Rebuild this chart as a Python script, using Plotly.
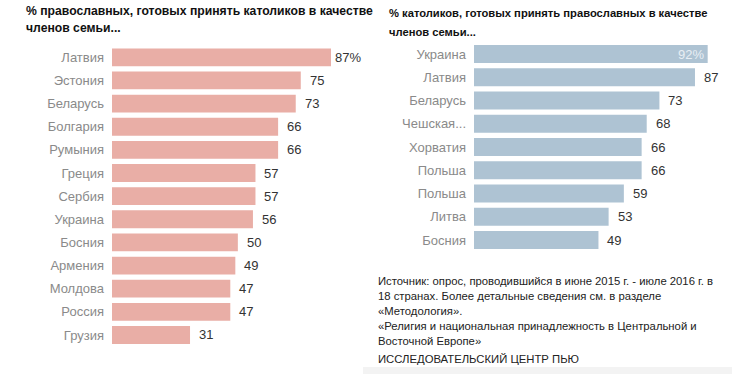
import plotly.graph_objects as go

W, H = 732, 374

left_countries = ["Латвия", "Эстония", "Беларусь", "Болгария", "Румыния", "Греция", "Сербия",
                  "Украина", "Босния", "Армения", "Молдова", "Россия", "Грузия"]
left_values = [87, 75, 73, 66, 66, 57, 57, 56, 50, 49, 47, 47, 31]

right_countries = ["Украина", "Латвия", "Беларусь", "Чешская...", "Хорватия", "Польша",
                   "Польша", "Литва", "Босния"]
right_values = [92, 87, 73, 68, 66, 66, 59, 53, 49]

left_title = ["% православных, готовых принять католиков в качестве", "членов семьи..."]
right_title = ["% католиков, готовых принять православных в качестве", "членов семьи..."]
source_lines = [
    "Источник: опрос, проводившийся в июне 2015 г. - июле 2016 г. в",
    "18 странах. Более детальные сведения см. в разделе",
    "«Методология».",
    "«Религия и национальная принадлежность в Центральной и",
    "Восточной Европе»",
]
credit = "ИССЛЕДОВАТЕЛЬСКИЙ ЦЕНТР ПЬЮ"

FONT = "Liberation Sans, Arial, sans-serif"
LEFT_COLOR = "#e9aea6"
RIGHT_COLOR = "#aec3d3"


def px_x(x):
    return x / W


def px_y(y):
    return 1 - y / H


def labels(vals, first_suffix="%"):
    return [f"{v}{first_suffix}" if i == 0 else str(v) for i, v in enumerate(vals)]


fig = go.Figure()

fig.add_trace(go.Bar(
    x=left_values, y=list(range(len(left_values))), orientation="h",
    marker=dict(color=LEFT_COLOR, line=dict(width=0)), width=0.77,
    xaxis="x", yaxis="y", hoverinfo="skip",
))
fig.add_trace(go.Bar(
    x=right_values, y=list(range(len(right_values))), orientation="h",
    marker=dict(color=RIGHT_COLOR, line=dict(width=0)), width=0.77,
    xaxis="x2", yaxis="y2", hoverinfo="skip",
))

lx0 = 112
lx1 = lx0 + 100 * 2.517
ly_top = 57.3 - 23.14 / 2
ly_bot = 57.3 + 23.14 * 12 + 23.14 / 2
rx0 = 474
rx1 = rx0 + 100 * 2.54
ry_top = 54 - 23.25 / 2
ry_bot = 54 + 23.25 * 8 + 23.25 / 2

common_x = dict(range=[0, 100], showgrid=False, zeroline=False, showticklabels=False,
                showline=False, fixedrange=True)
fig.update_layout(
    xaxis=dict(domain=[px_x(lx0), px_x(lx1)], anchor="y", **common_x),
    yaxis=dict(domain=[px_y(ly_bot), px_y(ly_top)], anchor="x",
               range=[len(left_values) - 0.5, -0.5],
               tickvals=list(range(len(left_values))), ticktext=left_countries,
               showgrid=False, zeroline=False, showline=False, ticks="",
               ticklabelstandoff=7,
               tickfont=dict(family=FONT, size=13, color="#8a8a8a")),
    xaxis2=dict(domain=[px_x(rx0), px_x(rx1)], anchor="y2", **common_x),
    yaxis2=dict(domain=[px_y(ry_bot), px_y(ry_top)], anchor="x2",
                range=[len(right_values) - 0.5, -0.5],
                tickvals=list(range(len(right_values))), ticktext=right_countries,
                showgrid=False, zeroline=False, showline=False, ticks="",
                ticklabelstandoff=7,
                tickfont=dict(family=FONT, size=13, color="#8a8a8a")),
    width=W, height=H, margin=dict(l=0, r=0, t=0, b=0),
    paper_bgcolor="white", plot_bgcolor="white", showlegend=False,
    bargap=0.2,
)

ann = []

for i, (v, t) in enumerate(zip(left_values, labels(left_values))):
    ann.append(dict(text=t, x=v, y=i, xref="x", yref="y", xshift=16 if i else 17,
                    xanchor="center", yanchor="middle", showarrow=False,
                    font=dict(family=FONT, size=13, color="#333333")))
for i, (v, t) in enumerate(zip(right_values, labels(right_values))):
    if i == 0:
        ann.append(dict(text=t, x=v, y=i, xref="x2", yref="y2", xshift=-2,
                        xanchor="right", yanchor="middle", showarrow=False,
                        font=dict(family=FONT, size=13, color="#e8eef4")))
    else:
        ann.append(dict(text=t, x=v, y=i, xref="x2", yref="y2", xshift=16,
                        xanchor="center", yanchor="middle", showarrow=False,
                        font=dict(family=FONT, size=13, color="#333333")))


def add_text(text, x, y, size, bold=False, color="#222222"):
    ann.append(dict(text=f"<b>{text}</b>" if bold else text, x=px_x(x), y=px_y(y),
                    xref="paper", yref="paper", xanchor="left", yanchor="middle",
                    align="left", showarrow=False,
                    font=dict(family=FONT, size=size, color=color)))


add_text(left_title[0], 24, 11, 12.2, bold=True, color="#111111")
add_text(left_title[1], 24, 28, 12.2, bold=True, color="#111111")
add_text(right_title[0], 387, 13, 11.2, bold=True, color="#111111")
add_text(right_title[1], 387, 32, 11.2, bold=True, color="#111111")
for i, line in enumerate(source_lines):
    add_text(line, 376, 281 + 15 * i, 11.3)
add_text(credit, 376, 359, 11.3)
fig.update_layout(annotations=ann)

fig.add_shape(type="rect", xref="paper", yref="paper", x0=px_x(363), x1=1,
              y0=0, y1=px_y(367), fillcolor="#f3f3f3", line=dict(width=0), layer="below")

fig.write_html("out.html", config={"displayModeBar": False},
               post_script="document.body.style.margin='0';")
